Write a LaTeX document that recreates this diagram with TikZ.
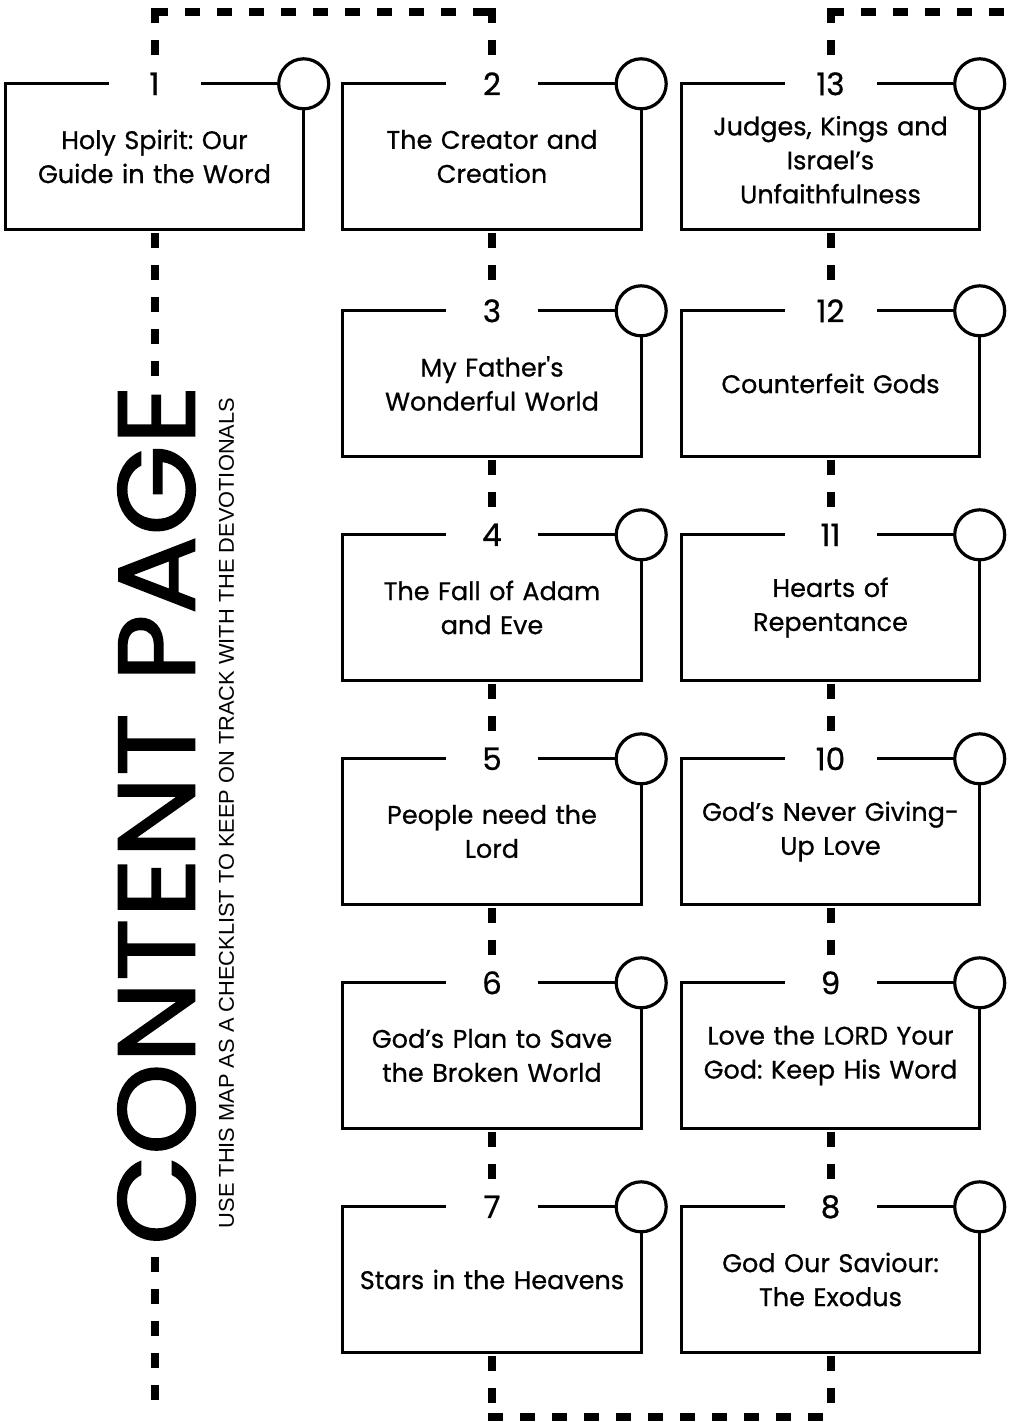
\documentclass[tikz,border=0pt]{standalone}
\usepackage{fontspec}
\usepackage{graphicx}
\newfontfamily\popfont[FakeBold=0.7]{Poppins}
\newfontfamily\titlefont[FakeBold=1.5]{Poppins}
\newfontfamily\subfont{Liberation Sans}
\frenchspacing
\newcommand\tbox[4]{%
  \node[box] (b#1) at (#2,#3+72.5) {#4};
  \node[knob] (k#1) at (b#1.north east) {};
  \draw[outline] (k#1.south) -- (b#1.south east) -- (b#1.south west) -- (b#1.north west) -- (k#1.west);
  \node[numlbl] (n#1) at (b#1.north) {#1};
}
\begin{document}
\begin{tikzpicture}[x=1pt,y=-1pt,
  box/.style={rectangle, minimum width=298pt, minimum height=145pt, inner sep=0pt,
    text width=292pt, align=center, font=\popfont\fontsize{25.5}{34}\selectfont},
  knob/.style={circle, draw, line width=3.2pt, fill=white, minimum size=50pt, inner sep=0pt},
  numlbl/.style={fill=white, minimum width=92pt, minimum height=27pt, inner sep=0pt,
    font=\popfont\fontsize{31}{31}\selectfont},
  outline/.style={line width=3.2pt, line join=miter},
  dashline/.style={line width=8pt, line cap=rect, dash pattern=on 7pt off 25pt}]
\fill[white] (0,0) rectangle (1015,1422);
\useasboundingbox (0,0) rectangle (1015,1422);
% column 0
\tbox{1}{154.5}{84}{Holy Spirit: Our\\Guide in the Word}
% column 1
\tbox{2}{492}{84}{The Creator and\\Creation}
\tbox{3}{492}{311}{My Father's\\Wonderful World}
\tbox{4}{492}{535}{The Fall of Adam\\and Eve}
\tbox{5}{492}{759}{People need the\\Lord}
\tbox{6}{492}{983}{God’s Plan to Save\\the Broken World}
\tbox{7}{492}{1207}{Stars in the Heavens}
% column 2
\tbox{13}{830.5}{84}{\rule{0pt}{26pt}Judges, Kings and\\Israel’s\\Unfaithfulness}
\tbox{12}{830.5}{311}{Counterfeit Gods}
\tbox{11}{830.5}{535}{Hearts of\\Repentance}
\tbox{10}{830.5}{759}{God’s Never Giving-\\Up Love}
\tbox{9}{830.5}{983}{Love the LORD Your\\God: Keep His Word}
\tbox{8}{830.5}{1207}{God Our Saviour:\\The Exodus}
% track coordinates
\coordinate (t0) at (154.5,12);
\coordinate (t1) at (492,12);
\coordinate (t2) at (830.5,12);
\coordinate (tR) at (1020,12);
\coordinate (u1) at (492,1417);
\coordinate (u2) at (830.5,1417);
\coordinate (z0) at (154.5,1405);
% top track
\draw[dashline, dash phase=30pt] (t0) -- (t1);
\draw[dashline, dash phase=0pt] (t0) -- (n1.north);
\draw[dashline, dash phase=0pt] (t1) -- (n2.north);
\draw[dashline, dash phase=30pt] (t2) -- (tR);
\draw[dashline, dash phase=0pt] (t2) -- (n13.north);
% column 0 track
\draw[dashline, dash phase=24pt] (b1.south) -- (z0);
% column 1 track
\draw[dashline, dash phase=24pt] (b2.south) -- (n3.north);
\draw[dashline, dash phase=24pt] (b3.south) -- (n4.north);
\draw[dashline, dash phase=24pt] (b4.south) -- (n5.north);
\draw[dashline, dash phase=24pt] (b5.south) -- (n6.north);
\draw[dashline, dash phase=24pt] (b6.south) -- (n7.north);
% column 2 track
\draw[dashline, dash phase=24pt] (b13.south) -- (n12.north);
\draw[dashline, dash phase=24pt] (b12.south) -- (n11.north);
\draw[dashline, dash phase=24pt] (b11.south) -- (n10.north);
\draw[dashline, dash phase=24pt] (b10.south) -- (n9.north);
\draw[dashline, dash phase=24pt] (b9.south) -- (n8.north);
% bottom track
\draw[dashline, dash phase=24pt] (b7.south) -- (u1);
\draw[dashline, dash phase=0pt] (u1) -- (u2);
\draw[dashline, dash phase=24pt] (b8.south) -- (u2);
% titles
\node[fill=white, inner sep=7pt, rotate=90] (title) at (156.5,815)
  {\resizebox{860pt}{77pt}{\titlefont CONTENT PAGE}};
\node[inner sep=0pt, rotate=90] (subtitle) at (226.5,813)
  {\resizebox{830pt}{15pt}{\subfont USE THIS MAP AS A CHECKLIST TO KEEP ON TRACK WITH THE DEVOTIONALS}};
\end{tikzpicture}
\end{document}
